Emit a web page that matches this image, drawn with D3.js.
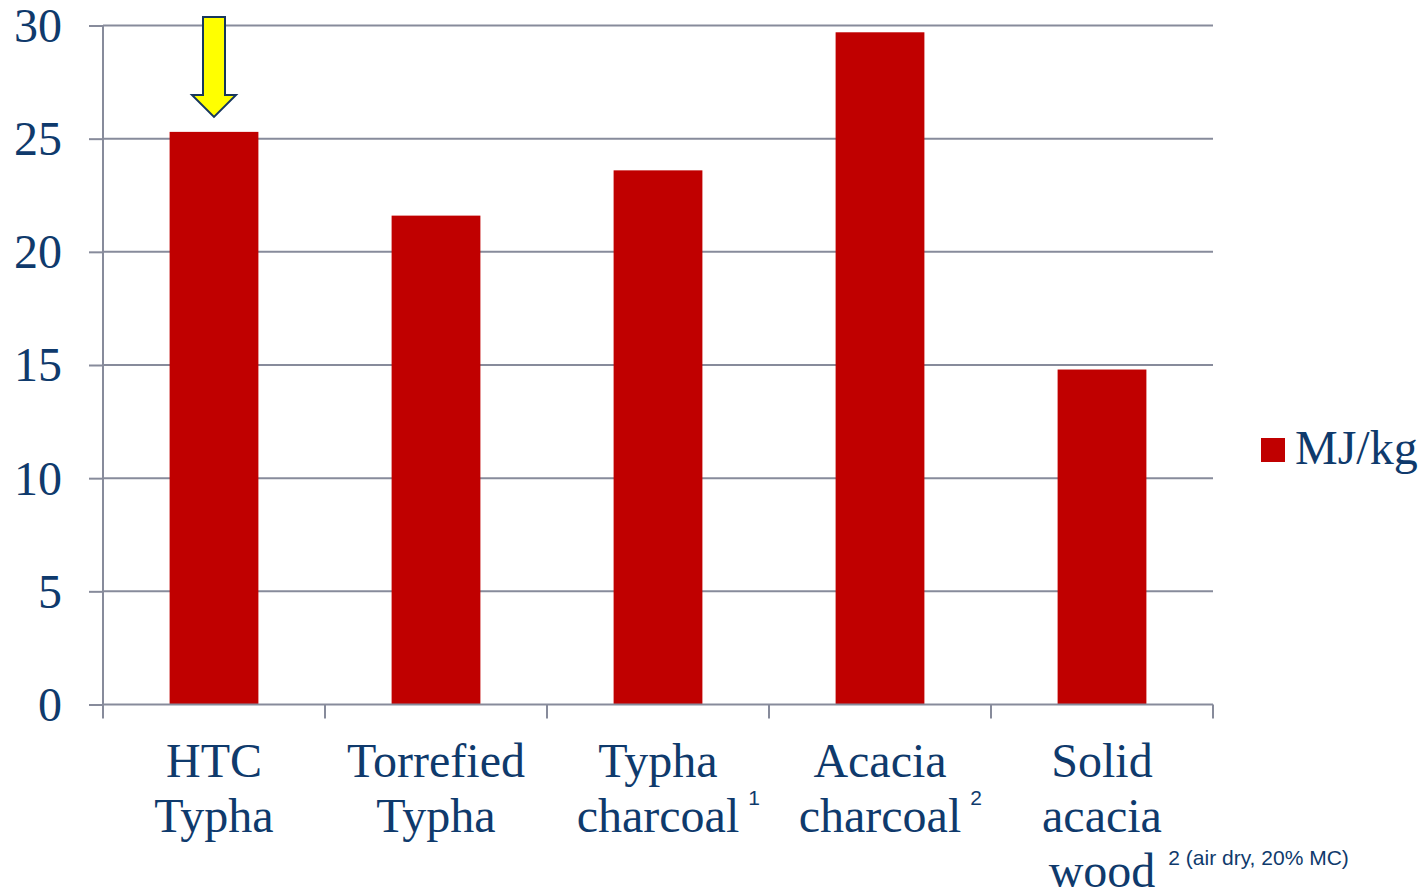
<!DOCTYPE html>
<html>
<head>
<meta charset="utf-8">
<script src="https://cdn.jsdelivr.net/npm/d3@7/dist/d3.min.js"></script>
<style>
  html, body { margin: 0; padding: 0; background: #fff; }
  svg { display: block; }
</style>
</head>
<body>
<svg id="chart" width="1424" height="889"></svg>
<script>
// Calorific value by fuel type (MJ/kg)
const categories = ["HTC Typha", "Torrefied Typha", "Typha charcoal", "Acacia charcoal", "Solid acacia wood"];
const labelLines = [["HTC", "Typha"], ["Torrefied", "Typha"], ["Typha", "charcoal"], ["Acacia", "charcoal"], ["Solid", "acacia", "wood"]];
const footnotes = ["", "", "1", "2", "2 (air dry, 20% MC)"];
const values = [25.3, 21.6, 23.6, 29.7, 14.8];
const yTicks = [0, 5, 10, 15, 20, 25, 30];
const seriesName = "MJ/kg";
const highlighted = "HTC Typha";

const navy = "#0F3A6C";
const red = "#C00000";
const gridColor = "#878B9B";
const serif = "'Liberation Serif', 'Times New Roman', serif";
const sans = "'Liberation Sans', Arial, sans-serif";

const svg = d3.select("#chart");
const plotLeft = 103, plotRight = 1213, plotTop = 25.5, plotBottom = 704.5;

const x = d3.scaleBand().domain(categories).range([plotLeft, plotRight]).paddingInner(0.6).paddingOuter(0.3);
const y = d3.scaleLinear().domain([0, 30]).range([plotBottom, plotTop]);

// horizontal gridlines
svg.append("g").selectAll("line").data(yTicks.filter(d => d > 0)).join("line")
  .attr("x1", plotLeft).attr("x2", plotRight)
  .attr("y1", d => y(d)).attr("y2", d => y(d))
  .attr("stroke", gridColor).attr("stroke-width", 2);

// y axis
const yAxis = svg.append("g").attr("transform", `translate(${plotLeft},0)`)
  .call(d3.axisLeft(y).tickValues(yTicks).tickSize(14).tickPadding(27).tickFormat(d3.format("d")));
yAxis.select(".domain").attr("stroke", gridColor).attr("stroke-width", 2).attr("d", `M0,${plotTop}V${plotBottom}`);
yAxis.selectAll(".tick line").attr("stroke", gridColor).attr("stroke-width", 2);
yAxis.selectAll(".tick text")
  .attr("font-family", serif).attr("font-size", 48).attr("fill", navy)
  .attr("dy", "0.33em");

// bars
svg.append("g").selectAll("rect").data(values).join("rect")
  .attr("x", (d, i) => x(categories[i]))
  .attr("width", x.bandwidth())
  .attr("y", d => y(d))
  .attr("height", d => y(0) - y(d))
  .attr("fill", red);

// x axis line with ticks at category boundaries
const step = x.step();
const boundaries = d3.range(categories.length + 1).map(i => plotLeft + i * step);
svg.append("line").attr("x1", plotLeft).attr("x2", plotRight).attr("y1", plotBottom).attr("y2", plotBottom)
  .attr("stroke", gridColor).attr("stroke-width", 2);
svg.append("g").selectAll("line").data(boundaries).join("line")
  .attr("x1", d => d).attr("x2", d => d)
  .attr("y1", plotBottom).attr("y2", plotBottom + 14)
  .attr("stroke", gridColor).attr("stroke-width", 2);

// category labels
const lineGap = 55;
const labels = svg.append("g");
categories.forEach((c, i) => {
  const cx = x(c) + x.bandwidth() / 2;
  const lines = labelLines[i];
  const t = labels.append("text")
    .attr("font-family", serif).attr("font-size", 48).attr("fill", navy)
    .attr("text-anchor", "middle");
  lines.forEach((ln, j) => {
    t.append("tspan").attr("x", cx).attr("y", 777 + j * lineGap).text(ln);
  });
  if (footnotes[i]) {
    // footnote sits just right of the last label line
    const lastSpan = t.selectAll("tspan").nodes()[lines.length - 1];
    const w = lastSpan.getComputedTextLength();
    labels.append("text")
      .attr("x", cx + w / 2 + (lines.length > 2 ? 13 : 9))
      .attr("y", 777 + (lines.length - 1) * lineGap - (lines.length > 2 ? 22 : 27))
      .attr("font-family", sans).attr("font-size", 21).attr("fill", navy)
      .text(footnotes[i]);
  }
});

// arrow pointing at the highlighted bar
const ax = x(highlighted) + x.bandwidth() / 2;
const tipY = y(values[categories.indexOf(highlighted)]) - 15;
const arrow = [
  [ax - 11, 17], [ax + 11, 17], [ax + 11, tipY - 22], [ax + 22, tipY - 22],
  [ax, tipY], [ax - 22, tipY - 22], [ax - 11, tipY - 22]
];
svg.append("path")
  .attr("d", d3.line()(arrow) + "Z")
  .attr("fill", "#FFFF00").attr("stroke", "#17375E").attr("stroke-width", 2);

// legend
svg.append("rect").attr("x", 1261).attr("y", 438).attr("width", 24).attr("height", 24).attr("fill", red);
svg.append("text").attr("x", 1295).attr("y", 464)
  .attr("font-family", serif).attr("font-size", 48).attr("fill", navy)
  .text(seriesName);
</script>
</body>
</html>
